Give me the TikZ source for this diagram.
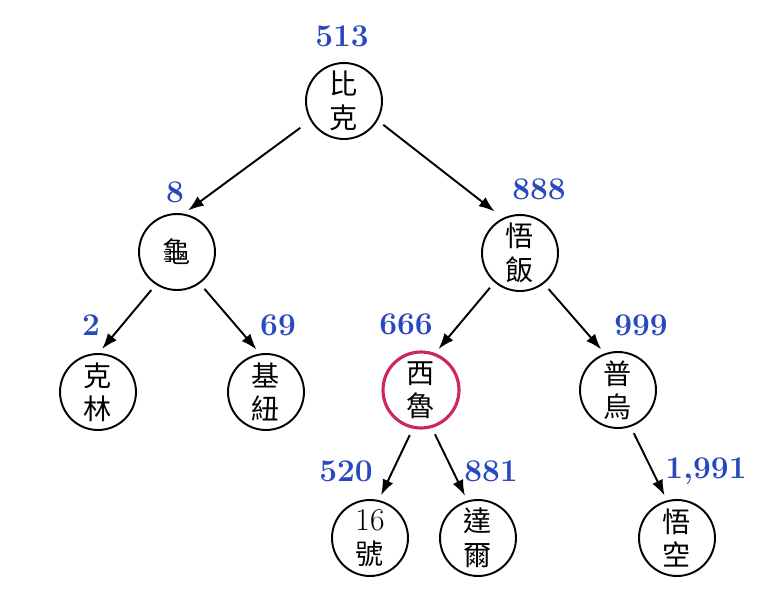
\documentclass[tikz,border=0pt]{standalone}
\usepackage{fontspec}
\usetikzlibrary{arrows.meta}
\newfontfamily\cjk{Noto Sans CJK TC}
\definecolor{numblue}{RGB}{40,72,190}
\definecolor{hotred}{RGB}{205,40,90}
\tikzset{
  person/.style={draw, circle, line width=1.1pt, minimum size=1.52cm, inner sep=0pt,
    align=center, font=\cjk\fontsize{16}{19}\selectfont},
  num/.style={text=numblue, font=\bfseries\fontsize{18}{20}\selectfont, inner sep=0pt},
  edge/.style={-{Latex[length=9pt,width=6.5pt]}, line width=1.1pt, shorten <=4pt, shorten >=3pt}
}
\begin{document}
\begin{tikzpicture}[x=.02cm, y=-.02cm]
\useasboundingbox (0,0) rectangle (758,605);
\node[person] (bike) at (344,101) {比\\克};
\node[person] (gui) at (177,252) {龜};
\node[person] (wufan) at (520,253) {悟\\飯};
\node[person] (kelin) at (98,392) {克\\林};
\node[person] (jiniu) at (266,392) {基\\紐};
\node[person, draw=hotred, line width=1.8pt] (xilu) at (421,390) {西\\魯};
\node[person] (puwu) at (618,390) {普\\烏};
\node[person] (hao) at (370,538) {{\normalfont\fontsize{18}{19}\selectfont 16}\\號};
\node[person] (daer) at (478,538) {達\\爾};
\node[person] (wukong) at (677,538) {悟\\空};
% values
\node[num] (vbike) at (342,36) {513};
\node[num] (vgui) at (175,192) {8};
\node[num] (vwufan) at (539,189) {888};
\node[num] (vkelin) at (91,325) {2};
\node[num] (vjiniu) at (278,325) {69};
\node[num] (vxilu) at (406,324) {666};
\node[num] (vpuwu) at (641,325) {999};
\node[num] (vhao) at (346,471) {520};
\node[num] (vdaer) at (491,471) {881};
\node[num] (vwukong) at (706,471) {1,991};
% edges
\draw[edge, shorten <=7pt] (bike.210) -- (gui.80);
\draw[edge, shorten >=6pt] (bike.330) -- (wufan.116);
\draw[edge] (gui.237) -- (kelin.89);
\draw[edge] (gui.306) -- (jiniu.99);
\draw[edge] (wufan.229) -- (xilu.69);
\draw[edge] (wufan.308) -- (puwu.110);
\draw[edge] (xilu.258) -- (hao.77);
\draw[edge] (xilu.286) -- (daer.106);
\draw[edge] (puwu.289) -- (wukong.105);
\end{tikzpicture}
\end{document}
